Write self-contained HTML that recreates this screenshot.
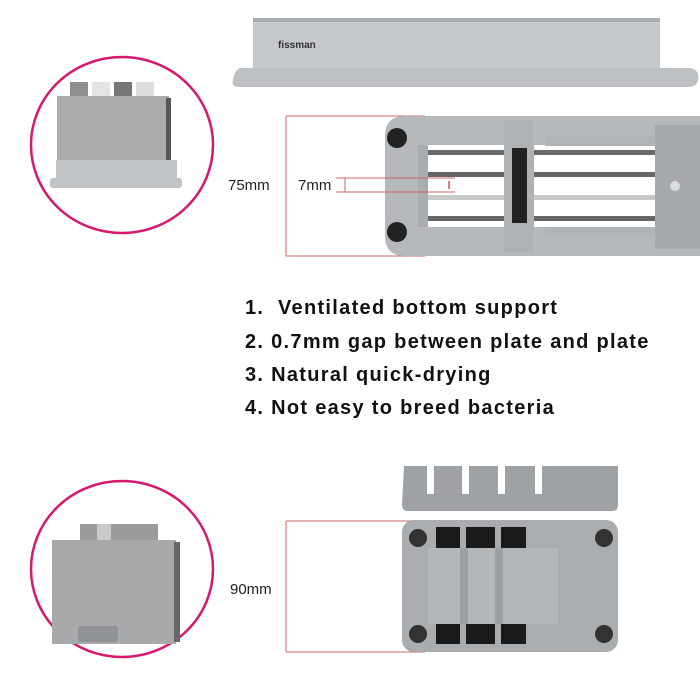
<!DOCTYPE html>
<html><head><style>
body{margin:0;width:700px;height:700px;background:#fff;position:relative;overflow:hidden;font-family:"Liberation Sans",sans-serif}
.a{position:absolute}
.t{position:absolute;left:245px;font-weight:bold;font-size:20px;color:#111;letter-spacing:1.3px;white-space:nowrap}
</style></head><body>
<svg class="a" style="left:0;top:0" width="700" height="700">
<!-- top circle -->
<ellipse cx="122" cy="145" rx="91" ry="88" fill="#fff" stroke="#d6186e" stroke-width="2.5"/>
<rect x="70" y="82" width="18" height="14" fill="#8f8f8f"/>
<rect x="92" y="82" width="18" height="14" fill="#e4e4e4"/>
<rect x="114" y="82" width="18" height="14" fill="#777"/>
<rect x="136" y="82" width="18" height="14" fill="#ddd"/>
<rect x="57" y="96" width="112" height="90" fill="#a9abad"/>
<rect x="166" y="98" width="5" height="88" fill="#555"/>
<rect x="56" y="160" width="121" height="20" fill="#c2c5c8"/>
<rect x="50" y="178" width="132" height="10" rx="3" fill="#bfc3c6"/>
<!-- top rack -->
<rect x="253" y="18" width="407" height="54" fill="#c4c8cb"/>
<rect x="253" y="18" width="407" height="4" fill="#a9adb0"/>
<path d="M240 68 H690 Q700 70 698 80 Q697 87 688 87 H238 Q231 87 233 79 Q235 70 240 68Z" fill="#bdc1c4"/>
<!-- bottom view top -->
<line x1="286" y1="116" x2="286" y2="256" stroke="#c66" stroke-width="1"/>
<line x1="286" y1="116" x2="425" y2="116" stroke="#c66" stroke-width="1"/>
<line x1="286" y1="256" x2="425" y2="256" stroke="#c66" stroke-width="1"/>
<path d="M405 116 H700 V256 H405 Q385 256 385 236 V136 Q385 116 405 116Z" fill="#b5b9bc"/>
<rect x="418" y="145" width="282" height="82" fill="#fff"/>
<rect x="418" y="150" width="282" height="5" fill="#6a6a6a"/>
<rect x="418" y="172" width="282" height="5" fill="#666"/>
<rect x="418" y="195" width="282" height="5" fill="#c8c8c8"/>
<rect x="418" y="216" width="282" height="5" fill="#666"/>
<rect x="504" y="120" width="30" height="132" fill="#aeb2b5"/>
<rect x="512" y="148" width="15" height="75" fill="#222"/>
<rect x="545" y="136" width="110" height="10" fill="#b0b4b6"/>
<rect x="545" y="227" width="110" height="10" fill="#b0b4b6"/>
<rect x="655" y="125" width="45" height="124" fill="#a6aaad"/>
<rect x="418" y="145" width="10" height="82" fill="#a9adb0"/>
<circle cx="397" cy="138" r="10" fill="#222"/>
<circle cx="397" cy="232" r="10" fill="#222"/>
<circle cx="675" cy="186" r="5" fill="#ddd"/>
<line x1="336" y1="178" x2="455" y2="178" stroke="#c66"/>
<line x1="336" y1="192" x2="455" y2="192" stroke="#c66"/>
<line x1="345" y1="178" x2="345" y2="192" stroke="#c66"/>
<line x1="449" y1="181" x2="449" y2="189" stroke="#a00"/>
<!-- bottom circle -->
<ellipse cx="122" cy="569" rx="91" ry="88" fill="#fff" stroke="#d6186e" stroke-width="2.5"/>
<rect x="80" y="524" width="78" height="18" fill="#9a9c9e"/>
<rect x="97" y="524" width="14" height="18" fill="#c9c9c9"/>
<rect x="52" y="540" width="124" height="104" fill="#a7a9ab"/>
<rect x="174" y="542" width="6" height="100" fill="#666"/>
<rect x="78" y="626" width="40" height="16" rx="3" fill="#8f9396"/>
<!-- bottom small rack -->
<path d="M404 466 H618 V505 Q618 511 612 511 H408 Q402 511 402 505Z" fill="#9ea2a5"/>
<rect x="427" y="466" width="7" height="28" fill="#fff"/>
<rect x="462" y="466" width="7" height="28" fill="#fff"/>
<rect x="498" y="466" width="7" height="28" fill="#fff"/>
<rect x="535" y="466" width="7" height="28" fill="#fff"/>
<!-- bottom view -->
<line x1="286" y1="521" x2="286" y2="652" stroke="#c66"/>
<line x1="286" y1="521" x2="425" y2="521" stroke="#c66"/>
<line x1="286" y1="652" x2="425" y2="652" stroke="#c66"/>
<rect x="402" y="520" width="216" height="132" rx="12" fill="#a9adb0"/>
<rect x="436" y="527" width="90" height="22" fill="#1a1a1a"/>
<rect x="436" y="622" width="90" height="22" fill="#1a1a1a"/>
<rect x="460" y="527" width="6" height="117" fill="#a9adb0"/>
<rect x="495" y="527" width="6" height="117" fill="#a9adb0"/>
<rect x="428" y="548" width="130" height="76" fill="#b3b7ba"/>
<rect x="460" y="548" width="8" height="76" fill="#9da1a4"/>
<rect x="495" y="548" width="8" height="76" fill="#9da1a4"/>
<circle cx="418" cy="538" r="9" fill="#333"/><circle cx="604" cy="538" r="9" fill="#333"/>
<circle cx="418" cy="634" r="9" fill="#333"/><circle cx="604" cy="634" r="9" fill="#333"/>
</svg>
<div class="a" style="left:278px;top:40px;font-size:10px;font-weight:bold;color:#333">fissman</div>
<div class="a" style="left:228px;top:177px;font-size:15px;color:#222">75mm</div>
<div class="a" style="left:298px;top:177px;font-size:15px;color:#222">7mm</div>
<div class="a" style="left:230px;top:581px;font-size:15px;color:#222">90mm</div>
<div class="t" style="top:297px">1.&nbsp; Ventilated bottom support</div>
<div class="t" style="top:331px">2. 0.7mm gap between plate and plate</div>
<div class="t" style="top:364px">3. Natural quick-drying</div>
<div class="t" style="top:397px">4. Not easy to breed bacteria</div>
</body></html>
